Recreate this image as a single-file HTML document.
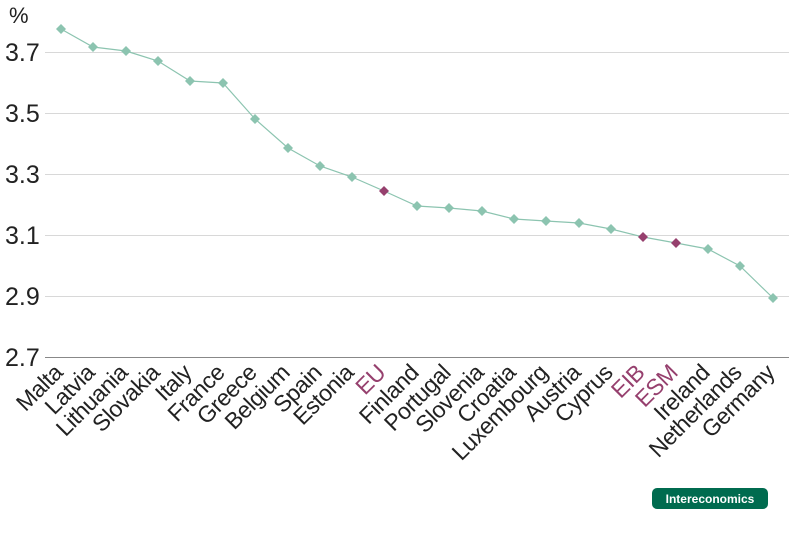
<!DOCTYPE html>
<html><head><style>body{margin:0;background:#fff}svg{display:block}</style></head><body>
<svg width="800" height="534" xmlns="http://www.w3.org/2000/svg" font-family="Liberation Sans, sans-serif">
<text x="9" y="23" font-size="22" fill="#222">%</text>
<g font-size="25" fill="#222">
<text x="5" y="61">3.7</text><text x="5" y="122">3.5</text><text x="5" y="183">3.3</text>
<text x="5" y="244">3.1</text><text x="5" y="305">2.9</text><text x="5" y="366">2.7</text></g>
<g stroke="#d8d8d8" stroke-width="1">
<line x1="45" x2="789" y1="52.5" y2="52.5"/><line x1="45" x2="789" y1="113.5" y2="113.5"/>
<line x1="45" x2="789" y1="174.5" y2="174.5"/><line x1="45" x2="789" y1="235.5" y2="235.5"/>
<line x1="45" x2="789" y1="296.5" y2="296.5"/></g>
<line x1="45" x2="789" y1="357.5" y2="357.5" stroke="#888" stroke-width="1"/>
<polyline fill="none" stroke="#8cc4b0" stroke-width="1.2" points="61,29 93,47 126,51 158,61 190,81 223,83 255,119 288,148 320,166 352,177 384,191 417,206 449,208 482,211 514,219 546,221 579,223 611,229 643,237 676,243 708,249 740,266 773,298"/>
<g fill="#8cc4b0">
<path d="M61,24l5,5l-5,5l-5,-5z"/><path d="M93,42l5,5l-5,5l-5,-5z"/><path d="M126,46l5,5l-5,5l-5,-5z"/><path d="M158,56l5,5l-5,5l-5,-5z"/><path d="M190,76l5,5l-5,5l-5,-5z"/><path d="M223,78l5,5l-5,5l-5,-5z"/><path d="M255,114l5,5l-5,5l-5,-5z"/><path d="M288,143l5,5l-5,5l-5,-5z"/><path d="M320,161l5,5l-5,5l-5,-5z"/><path d="M352,172l5,5l-5,5l-5,-5z"/><path d="M417,201l5,5l-5,5l-5,-5z"/><path d="M449,203l5,5l-5,5l-5,-5z"/><path d="M482,206l5,5l-5,5l-5,-5z"/><path d="M514,214l5,5l-5,5l-5,-5z"/><path d="M546,216l5,5l-5,5l-5,-5z"/><path d="M579,218l5,5l-5,5l-5,-5z"/><path d="M611,224l5,5l-5,5l-5,-5z"/><path d="M708,244l5,5l-5,5l-5,-5z"/><path d="M740,261l5,5l-5,5l-5,-5z"/><path d="M773,293l5,5l-5,5l-5,-5z"/></g>
<g fill="#96406e"><path d="M384,186l5,5l-5,5l-5,-5z"/><path d="M643,232l5,5l-5,5l-5,-5z"/><path d="M676,238l5,5l-5,5l-5,-5z"/></g>
<g font-size="23" fill="#222" text-anchor="end" letter-spacing="-0.4">
<text transform="translate(64,374) rotate(-45)">Malta</text>
<text transform="translate(96,374) rotate(-45)">Latvia</text>
<text transform="translate(129,374) rotate(-45)">Lithuania</text>
<text transform="translate(161,374) rotate(-45)">Slovakia</text>
<text transform="translate(193,374) rotate(-45)">Italy</text>
<text transform="translate(226,374) rotate(-45)">France</text>
<text transform="translate(258,374) rotate(-45)">Greece</text>
<text transform="translate(291,374) rotate(-45)">Belgium</text>
<text transform="translate(323,374) rotate(-45)">Spain</text>
<text transform="translate(355,374) rotate(-45)">Estonia</text>
<text transform="translate(387,374) rotate(-45)" fill="#96406e">EU</text>
<text transform="translate(420,374) rotate(-45)">Finland</text>
<text transform="translate(452,374) rotate(-45)">Portugal</text>
<text transform="translate(485,374) rotate(-45)">Slovenia</text>
<text transform="translate(517,374) rotate(-45)">Croatia</text>
<text transform="translate(549,374) rotate(-45)">Luxembourg</text>
<text transform="translate(582,374) rotate(-45)">Austria</text>
<text transform="translate(614,374) rotate(-45)">Cyprus</text>
<text transform="translate(646,374) rotate(-45)" fill="#96406e">EIB</text>
<text transform="translate(679,374) rotate(-45)" fill="#96406e">ESM</text>
<text transform="translate(711,374) rotate(-45)">Ireland</text>
<text transform="translate(743,374) rotate(-45)">Netherlands</text>
<text transform="translate(776,374) rotate(-45)">Germany</text>
</g>
<rect x="652" y="488" width="116" height="21" rx="5" fill="#006b4f"/>
<text x="710" y="503" font-size="12" font-weight="bold" fill="#fff" text-anchor="middle">Intereconomics</text>
</svg>
</body></html>
